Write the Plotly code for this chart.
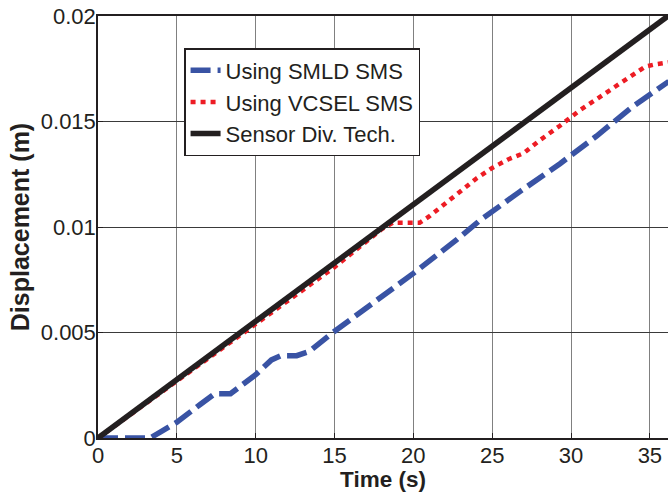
import plotly.graph_objects as go

# Sensor Div. Tech. (reference, straight line)
t_sensor = [0, 36.15]
d_sensor = [0, 0.02]

# Using SMLD SMS (blue dashed)
t_smld = [0, 3.3, 4.0, 5.0, 6.5, 7.4, 8.4, 9.0, 10.0, 11.0, 11.6, 12.6, 13.4,
          14.9, 17.45, 20.0, 22.75, 24.2, 26.8, 29.3, 31.6, 33.9, 36.2]
d_smld = [0, 0, 0.0003, 0.00075, 0.0016, 0.0021, 0.0021, 0.00243, 0.0030, 0.0037,
          0.0039, 0.0039, 0.0041, 0.0050, 0.0064, 0.0078, 0.0094, 0.0103,
          0.0117, 0.0130, 0.0143, 0.0157, 0.0169]

# Using VCSEL SMS (red dotted)
t_vcsel = [0, 5, 10, 15, 17, 18, 18.7, 20.4, 21.0, 22.0, 23.0, 24.0, 25.0, 26.0,
           27.0, 28.0, 29.3, 30.5, 31.7, 32.9, 34.0, 34.7, 35.3, 36.2]
d_vcsel = [0, 0.0027, 0.0054, 0.0081, 0.0093, 0.0099, 0.0102, 0.0102, 0.0105, 0.0111,
           0.0117, 0.0123, 0.0128, 0.0132, 0.0135, 0.0141, 0.0148, 0.0155, 0.0161,
           0.0167, 0.0173, 0.0176, 0.0177, 0.0178]

x_ticks = [0, 5, 10, 15, 20, 25, 30, 35]
y_ticks = [0, 0.005, 0.01, 0.015, 0.02]
y_tick_text = ["0", "0.005", "0.01", "0.015", "0.02"]

ink = "#231f20"
font_family = "Liberation Sans, Arial, Helvetica, sans-serif"

fig = go.Figure()
fig.add_trace(go.Scatter(x=t_smld, y=d_smld, mode="lines", name="Using SMLD SMS",
                         line=dict(color="#3953a4", width=5.5, dash="20px,7px")))
fig.add_trace(go.Scatter(x=t_vcsel, y=d_vcsel, mode="lines", name="Using VCSEL SMS",
                         line=dict(color="#ed1c24", width=4.5, dash="5px,5px")))
fig.add_trace(go.Scatter(x=t_sensor, y=d_sensor, mode="lines", name="Sensor Div. Tech.",
                         line=dict(color=ink, width=5.5)))

fig.update_layout(
    width=668, height=492,
    margin=dict(l=98, r=0, t=16, b=54, autoexpand=False),
    paper_bgcolor="white", plot_bgcolor="white",
    font=dict(family=font_family, size=22, color=ink),
    showlegend=True,
    legend=dict(x=0.151, y=0.924, xanchor="left", yanchor="top",
                bgcolor="white", bordercolor=ink, borderwidth=1.5,
                font=dict(size=22, color=ink), tracegroupgap=0,
                itemwidth=30),
)
fig.update_xaxes(
    range=[0, 36.15], tickvals=x_ticks, ticks="inside", ticklen=5, tickcolor=ink,
    showgrid=True, gridcolor="#808080", gridwidth=1,
    showline=True, linecolor=ink, linewidth=1.5, mirror=True,
    zeroline=False, ticklabelstandoff=-3, automargin=False,
    title=dict(text="<b>Time (s)</b>", standoff=7, font=dict(size=22.5, color=ink)),
    tickfont=dict(size=22, color=ink),
)
fig.update_yaxes(
    range=[0, 0.02], tickvals=y_ticks, ticktext=y_tick_text, ticks="inside", ticklen=5,
    tickcolor=ink, showgrid=True, gridcolor="#3a3a3a", gridwidth=1,
    showline=True, linecolor=ink, linewidth=1.5, mirror=False,
    zeroline=False, ticklabelstandoff=-4, automargin=False,
    title=dict(text="<b>Displacement (m)</b>", standoff=4, font=dict(size=25, color=ink)),
    tickfont=dict(size=22, color=ink),
)

fig.write_html("out.html")
